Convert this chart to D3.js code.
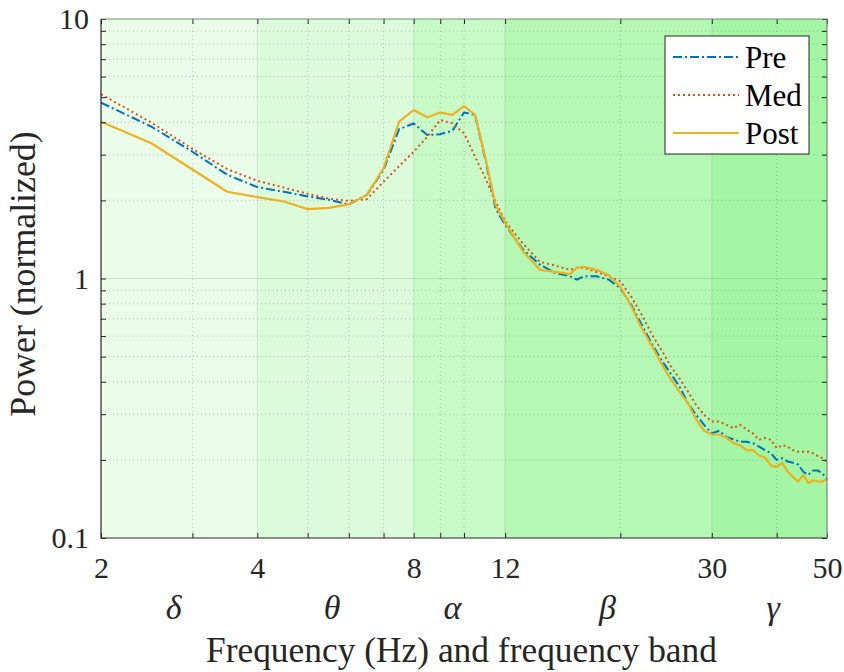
<!DOCTYPE html>
<html>
<head>
<meta charset="utf-8">
<script src="https://cdn.jsdelivr.net/npm/d3@7"></script>
<style>
  body { margin: 0; background: #fff; }
  svg { display: block; }
</style>
</head>
<body>
<svg id="chart" width="844" height="672"></svg>
<script>
// frequencies (Hz) shared by the three spectra
const freqs = [2, 2.5, 3, 3.5, 4, 4.5, 5, 5.5, 6, 6.5, 7, 7.5, 8, 8.5, 9, 9.5, 10, 10.5, 11, 11.5, 12,
  13, 14, 15, 16, 16.5, 17, 18, 19, 20, 21, 22, 23, 24, 25, 26, 27, 28, 29, 30,
  31, 32, 33, 34, 35, 36, 37, 38, 39, 40, 41, 42, 43, 44, 45, 46, 47, 48, 49, 50];

const pre = [4.76, 3.85, 3.08, 2.51, 2.25, 2.16, 2.07, 2.01, 1.93, 2.10, 2.62, 3.76, 3.96, 3.57, 3.60, 3.71, 4.36, 4.27, 2.86, 1.86, 1.61,
  1.29, 1.13, 1.05, 1.02, 0.99, 1.02, 1.02, 0.99, 0.917, 0.79, 0.662, 0.56, 0.485, 0.43, 0.383, 0.33, 0.298, 0.273, 0.253,
  0.259, 0.245, 0.240, 0.235, 0.235, 0.232, 0.225, 0.218, 0.212, 0.200, 0.203, 0.197, 0.195, 0.192, 0.180, 0.175, 0.182, 0.182, 0.178, 0.167];

const med = [5.13, 3.99, 3.16, 2.64, 2.38, 2.24, 2.12, 2.03, 1.99, 2.02, 2.36, 2.71, 3.08, 3.52, 4.08, 3.96, 3.63, 2.95, 2.43, 1.98, 1.66,
  1.36, 1.16, 1.12, 1.08, 1.10, 1.10, 1.06, 1.02, 0.975, 0.85, 0.723, 0.61, 0.53, 0.46, 0.412, 0.366, 0.325, 0.298, 0.281,
  0.281, 0.273, 0.265, 0.273, 0.262, 0.253, 0.239, 0.243, 0.239, 0.222, 0.228, 0.225, 0.218, 0.215, 0.215, 0.215, 0.212, 0.207, 0.203, 0.197];

const post = [4.02, 3.32, 2.63, 2.16, 2.06, 1.98, 1.85, 1.87, 1.93, 2.10, 2.66, 4.02, 4.46, 4.18, 4.36, 4.27, 4.62, 4.27, 2.91, 1.92, 1.64,
  1.27, 1.08, 1.06, 1.04, 1.10, 1.11, 1.08, 1.03, 0.93, 0.78, 0.642, 0.55, 0.47, 0.41, 0.366, 0.33, 0.286, 0.259, 0.251,
  0.250, 0.244, 0.232, 0.228, 0.218, 0.218, 0.208, 0.204, 0.190, 0.188, 0.195, 0.180, 0.172, 0.165, 0.175, 0.163, 0.167, 0.165, 0.165, 0.169];

const seriesNames = ['Pre', 'Med', 'Post'];

// frequency bands
const bandEdges = [2, 4, 8, 12, 30, 50];
const bandNames = ['δ', 'θ', 'α', 'β', 'γ'];
const bandLabelAt = [2.76, 5.57, 9.5, 18.9, 39.4];

// axis ticks
const xTickLabels = [2, 4, 8, 12, 30, 50];
const xMinorTicks = [3, 5, 6, 7, 9, 10, 20, 40];
const yTickLabels = [0.1, 1, 10];
const yMinorTicks = [0.2, 0.3, 0.4, 0.5, 0.6, 0.7, 0.8, 0.9, 2, 3, 4, 5, 6, 7, 8, 9];

const width = 844, height = 672;
const margin = { top: 19, right: 17, bottom: 134, left: 101 };
const plotW = width - margin.left - margin.right;
const plotH = height - margin.top - margin.bottom;

const FONT = '"Liberation Serif"';
const bandColors = ['#eafcea', '#dbfbdb', '#c8fac8', '#b4f8b4', '#a4f5a4'];
const lineColors = ['#0072BD', '#D95319', '#EDB120'];
const lineDash = ['9,3,2,3', '2,3', null];
const lineWidth = [2, 2, 2.2];

const svg = d3.select('#chart');
const g = svg.append('g').attr('transform', `translate(${margin.left},${margin.top})`);

const x = d3.scaleLog().domain([2, 50]).range([0, plotW]);
const y = d3.scaleLog().domain([0.1, 10]).range([plotH, 0]);

// band backgrounds
g.selectAll('rect.band')
  .data(bandNames)
  .join('rect')
  .attr('class', 'band')
  .attr('x', (d, i) => x(bandEdges[i]))
  .attr('width', (d, i) => x(bandEdges[i + 1]) - x(bandEdges[i]))
  .attr('y', 0)
  .attr('height', plotH)
  .attr('fill', (d, i) => bandColors[i]);

// minor grid (dotted)
g.selectAll('line.xminor')
  .data(xMinorTicks)
  .join('line')
  .attr('x1', d => x(d)).attr('x2', d => x(d))
  .attr('y1', 0).attr('y2', plotH)
  .attr('stroke', '#262626').attr('stroke-opacity', 0.25)
  .attr('stroke-dasharray', '1,3');

g.selectAll('line.yminor')
  .data(yMinorTicks)
  .join('line')
  .attr('x1', 0).attr('x2', plotW)
  .attr('y1', d => y(d)).attr('y2', d => y(d))
  .attr('stroke', '#262626').attr('stroke-opacity', 0.25)
  .attr('stroke-dasharray', '1,3');

// major grid (solid, faint)
g.selectAll('line.xmajor')
  .data(xTickLabels.slice(1, -1))
  .join('line')
  .attr('x1', d => x(d)).attr('x2', d => x(d))
  .attr('y1', 0).attr('y2', plotH)
  .attr('stroke', '#262626').attr('stroke-opacity', 0.13);

g.selectAll('line.ymajor')
  .data([1])
  .join('line')
  .attr('x1', 0).attr('x2', plotW)
  .attr('y1', d => y(d)).attr('y2', d => y(d))
  .attr('stroke', '#262626').attr('stroke-opacity', 0.13);

// spectra
const allSeries = [pre, med, post];
const line = d3.line()
  .x((d, i) => x(freqs[i]))
  .y(d => y(d));

allSeries.forEach((s, k) => {
  g.append('path')
    .datum(s)
    .attr('fill', 'none')
    .attr('stroke', lineColors[k])
    .attr('stroke-width', lineWidth[k])
    .attr('stroke-dasharray', lineDash[k])
    .attr('stroke-linejoin', 'round')
    .attr('d', line);
});

// axes, ticks pointing inward
const xTicksAll = xTickLabels.concat(xMinorTicks).sort((a, b) => a - b);
const yTicksAll = yTickLabels.concat(yMinorTicks).sort((a, b) => a - b);
const fmtX = d => xTickLabels.includes(d) ? d : '';
const fmtY = d => yTickLabels.includes(d) ? String(d) : '';

function styleAxis(sel) {
  sel.attr('font-family', null);
  sel.select('.domain').remove();
  sel.selectAll('line').attr('stroke', '#262626');
  sel.selectAll('text')
    .attr('fill', '#262626')
    .style('font-size', '30px')
    .style('font-family', FONT);
}

g.append('g')
  .attr('transform', `translate(0,${plotH})`)
  .call(d3.axisBottom(x).tickValues(xTicksAll).tickFormat(fmtX).tickSize(-5).tickPadding(19))
  .call(styleAxis);

g.append('g')
  .call(d3.axisTop(x).tickValues(xTicksAll).tickFormat('').tickSize(-5))
  .call(styleAxis);

g.append('g')
  .call(d3.axisLeft(y).tickValues(yTicksAll).tickFormat(fmtY).tickSize(-5).tickPadding(12))
  .call(styleAxis);

g.append('g')
  .attr('transform', `translate(${plotW},0)`)
  .call(d3.axisRight(y).tickValues(yTicksAll).tickFormat('').tickSize(-5))
  .call(styleAxis);

// box
g.append('path')
  .attr('d', `M0,0V${plotH}H${plotW}`)
  .attr('fill', 'none').attr('stroke', '#262626').attr('stroke-width', 1.2);
g.append('path')
  .attr('d', `M0,0H${plotW}V${plotH}`)
  .attr('fill', 'none').attr('stroke', '#6f8f6f').attr('stroke-width', 1.2);

// band labels
g.selectAll('text.bandlabel')
  .data(bandNames)
  .join('text')
  .attr('class', 'bandlabel')
  .attr('x', (d, i) => x(bandLabelAt[i]))
  .attr('y', plotH + 81)
  .attr('text-anchor', 'middle')
  .style('font-family', FONT)
  .style('font-size', '34px')
  .style('font-style', 'italic')
  .attr('fill', '#262626')
  .text(d => d);

// axis labels
svg.append('text')
  .attr('x', 461.5)
  .attr('y', 662)
  .attr('text-anchor', 'middle')
  .style('font-family', FONT)
  .style('font-size', '35.4px')
  .attr('fill', '#262626')
  .text('Frequency (Hz) and frequency band');

svg.append('text')
  .attr('transform', 'translate(35,274) rotate(-90)')
  .attr('text-anchor', 'middle')
  .style('font-family', FONT)
  .style('font-size', '35.8px')
  .attr('fill', '#262626')
  .text('Power (normalized)');

// legend
const legend = svg.append('g').attr('transform', 'translate(665,36)');
legend.append('rect')
  .attr('width', 144).attr('height', 118)
  .attr('fill', '#fff').attr('stroke', '#262626').attr('stroke-width', 1);

seriesNames.forEach((name, k) => {
  const ly = 21 + k * 38;
  legend.append('line')
    .attr('x1', 8).attr('x2', 74)
    .attr('y1', ly).attr('y2', ly)
    .attr('stroke', lineColors[k])
    .attr('stroke-width', lineWidth[k])
    .attr('stroke-dasharray', lineDash[k]);
  legend.append('text')
    .attr('x', 80).attr('y', ly + 11)
    .style('font-family', FONT)
    .style('font-size', '31px')
    .attr('fill', '#000')
    .text(name);
});
</script>
</body>
</html>
